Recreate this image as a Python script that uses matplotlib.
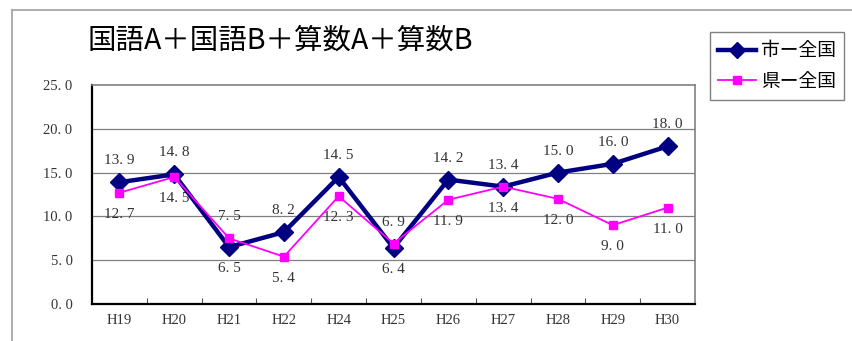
import matplotlib.pyplot as plt
from matplotlib.lines import Line2D

years = ["H19", "H20", "H21", "H22", "H24", "H25", "H26", "H27", "H28", "H29", "H30"]
city_diff = [13.9, 14.8, 6.5, 8.2, 14.5, 6.4, 14.2, 13.4, 15.0, 16.0, 18.0]
pref_diff = [12.7, 14.5, 7.5, 5.4, 12.3, 6.9, 11.9, 13.4, 12.0, 9.0, 11.0]
city_label = "市ー全国"
pref_label = "県ー全国"
title = "国語A＋国語B＋算数A＋算数B"

# which side of the point each value label sits on (1 = above, -1 = below)
city_side = [1, 1, -1, 1, 1, -1, 1, 1, 1, 1, 1]
pref_side = [-1, -1, 1, -1, -1, 1, -1, -1, -1, -1, -1]

CJK = ["Noto Sans CJK JP", "DejaVu Sans"]
SERIF = "Liberation Serif"
W, H = 852, 341


def fmt(v):
    # the original uses a wide full stop, so pad it out a bit
    return f"{v:.1f}".replace(".", ". ")


fig = plt.figure(figsize=(W / 100, H / 100), dpi=100)
ax = fig.add_axes([92 / W, 1 - 304 / H, (695 - 92) / W, (304 - 85) / H])

x = list(range(len(years)))
ax.plot(x, city_diff, color="#000080", lw=3.2, marker="D", ms=9.5, zorder=4)
ax.plot(x, pref_diff, color="#ff00ff", lw=1.3, marker="s", ms=6, zorder=5)

for i, v in enumerate(city_diff):
    ax.annotate(fmt(v), (i, v), xytext=(0, 15.5 * city_side[i]), textcoords="offset points",
                ha="center", va="center", fontsize=11, family=SERIF, color="#333333")
for i, v in enumerate(pref_diff):
    ax.annotate(fmt(v), (i, v), xytext=(0, 15.5 * pref_side[i]), textcoords="offset points",
                ha="center", va="center", fontsize=11, family=SERIF, color="#333333")

ax.set_xlim(-0.5, len(years) - 0.5)
ax.set_ylim(0, 25)
yt = [0, 5, 10, 15, 20, 25]
ax.set_yticks(yt)
ax.set_yticklabels([fmt(v) for v in yt], family=SERIF, fontsize=10.5, color="#333333")
ax.tick_params(axis="y", length=0, pad=14)
ax.set_xticks(x)
ax.set_xticklabels(years, family=SERIF, fontsize=10.5, color="#333333")
ax.tick_params(axis="x", which="major", length=0, pad=7)
ax.set_xticks([i + 0.5 for i in x[:-1]], minor=True)
ax.tick_params(axis="x", which="minor", direction="in", length=4, width=0.8, color="#555555")

for g in yt[1:-1]:
    ax.axhline(g, color="#808080", lw=0.9, zorder=1)

ax.spines["left"].set_linewidth(1.6)
ax.spines["bottom"].set_linewidth(1.6)
ax.spines["left"].set_color("black")
ax.spines["bottom"].set_color("black")
for s in ("top", "right"):
    ax.spines[s].set_color("#808080")
    ax.spines[s].set_linewidth(1.2)

fig.text(88 / W, 1 - 41 / H, title, family=CJK, fontsize=20.5, va="center", ha="left")

# outer chart frame, cut off on the right and bottom
fig.add_artist(Line2D([12 / W, 1.0], [1 - 10 / H, 1 - 10 / H], transform=fig.transFigure,
                      color="#a0a0a0", lw=1.2))
fig.add_artist(Line2D([12 / W, 12 / W], [1 - 10 / H, 0.0], transform=fig.transFigure,
                      color="#a0a0a0", lw=1.2))

handles = [
    Line2D([], [], color="#000080", lw=3.2, marker="D", ms=8),
    Line2D([], [], color="#ff00ff", lw=1.3, marker="s", ms=6),
]
leg = fig.legend(handles, [city_label, pref_label], loc="upper left",
                 bbox_to_anchor=(710 / W, 1 - 32 / H), prop={"family": CJK, "size": 13.5},
                 handlelength=2.0, handletextpad=0.25, labelspacing=0.5,
                 borderpad=0.45, fancybox=False, framealpha=1, borderaxespad=0)
leg.get_frame().set_edgecolor("#808080")
leg.get_frame().set_linewidth(1.0)

fig.savefig("out.png", dpi=100)
